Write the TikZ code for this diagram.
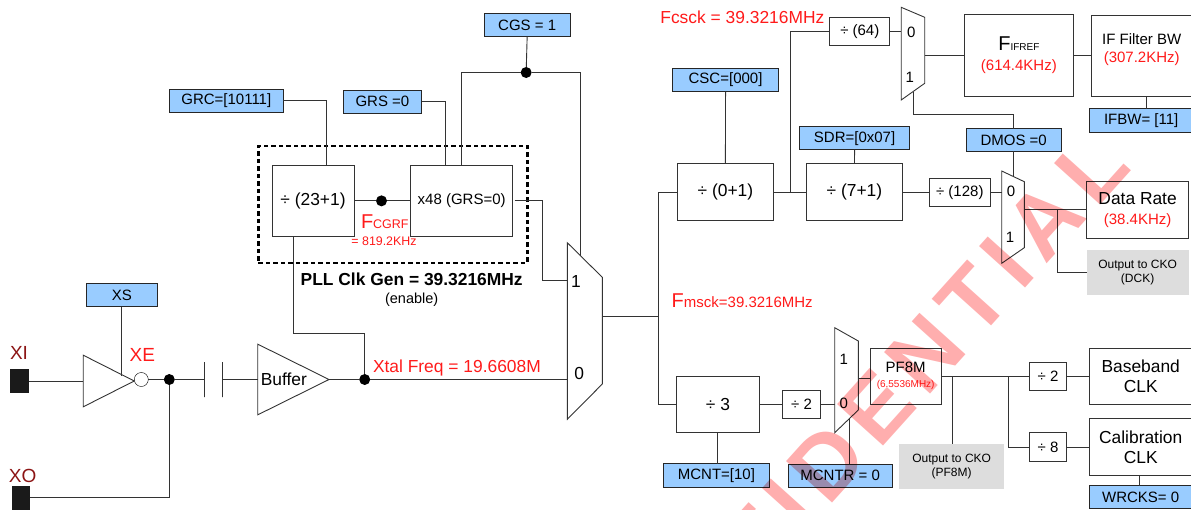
\documentclass[tikz,border=0pt]{standalone}
\usepackage{fontspec}
\setmainfont{Liberation Sans}
\newfontfamily\stampfont[LetterSpace=12.2]{Liberation Sans}
\usepackage{xcolor}
\usepackage{tikz}
\usetikzlibrary{positioning}
\definecolor{regBlue}{HTML}{99CCFF}
\definecolor{clkRed}{HTML}{FF1A1A}
\definecolor{padRed}{HTML}{8C1414}
\definecolor{outGray}{HTML}{DDDDDD}
\definecolor{wireGray}{HTML}{333333}
\definecolor{padBlack}{HTML}{1A1A1A}
\definecolor{stampPink}{HTML}{FFAEAE}
\newcommand{\sizeL}{\fontsize{17.4}{20}\selectfont}
\newcommand{\sizeM}{\fontsize{15}{18}\selectfont}
\newcommand{\sizeS}{\fontsize{12}{14}\selectfont}
\newcommand{\sizeT}{\fontsize{10}{12}\selectfont}
\newcommand{\bigF}[2]{{\fontsize{20}{22}\selectfont F}{\fontsize{#1}{#1}\selectfont #2}}
\newcommand{\redvalue}[1]{{\color{clkRed}\sizeM #1}}
\newcommand{\muxshape}[3]{\draw[wire] (#1.north west) -- ([yshift=-#2pt]#1.north east)
  -- ([yshift=#3pt]#1.south east) -- (#1.south west) -- cycle;}
\newcommand{\triangleshape}[1]{\draw[wire] (#1.north west) -- (#1.east) -- (#1.south west) -- cycle;}
\tikzset{
  wire/.style={draw=wireGray, line width=0.9pt},
  sized/.style 2 args={minimum width=#1pt, minimum height=#2pt},
  block/.style={draw=wireGray, fill=white, line width=0.9pt, inner sep=0pt,
    align=center, font=\sizeL},
  small block/.style={block, font=\sizeM},
  reg box/.style={draw=black!85, fill=regBlue, line width=0.9pt, inner sep=0pt,
    font=\sizeM},
  out box/.style={fill=outGray, inner sep=0pt, align=center, font=\sizeS},
  pad/.style={fill=padBlack, inner sep=0pt},
  pad label/.style={inner sep=0pt, text=padRed, font=\fontsize{19}{21}\selectfont},
  red label/.style={inner sep=0pt, text=clkRed, font=\sizeL},
  dark label/.style={inner sep=0pt, font=\sizeM},
  mux bit/.style={inner sep=0pt, font=\sizeM},
  ghost/.style={inner sep=0pt},
  junction/.style={circle, fill=black, minimum size=11pt, inner sep=0pt},
  bubble/.style={circle, draw=black, fill=white, minimum size=14pt, inner sep=0pt},
  plate/.style={draw=wireGray, line width=0.9pt, inner sep=0pt, minimum width=0pt,
    minimum height=35pt},
  pll frame/.style={draw=black, line width=2.4pt, dash pattern=on 4.5pt off 3pt},
  stamp/.style={inner sep=0pt, text=stampPink,
    font=\fontsize{90}{90}\stampfont\bfseries}
}
\begin{document}
\begin{tikzpicture}[x=1pt,y=-1pt,every node/.append style={outer sep=0pt}]
  \useasboundingbox (0,0) rectangle (1191,509);
  % crystal input
  \node[pad, sized={18.7}{23.7}] (xi pad) at (19.3,381) {};
  \node[pad, sized={18.7}{30}] (xo pad) at (21,501) {};
  \node[pad label] (xi label) at (19,352.7) {XI};
  \node[pad label] (xo label) at (22.7,476) {XO};
  \node[ghost, sized={51}{51.6}, right=54.6pt of xi pad] (inverter) {};
  \node[reg box, sized={71}{23}] (xs) at (121.8,295) {XS};
  \node[bubble] (xe bubble) at (141.3,379.5) {};
  \node[red label, font=\fontsize{19}{21}\selectfont] (xe label) at (142.3,355.3) {XE};
  \node[junction] (xe dot) at (169.3,379.5) {};
  \node[plate, right=29.9pt of xe dot] (cap left) {};
  \node[plate, right=18pt of cap left] (cap right) {};
  \node[ghost, sized={71.3}{70.7}, right=35pt of cap right, text width=65pt, align=left, font=\sizeL] (buffer) {Buffer};
  \node[junction, right=30.2pt of buffer] (xtal dot) {};
  \node[red label, anchor=west] (xtal label) at (373,368) {Xtal Freq = 19.6608M};
  \triangleshape{inverter}
  \triangleshape{buffer}
  % pll clock generator
  \node[pll frame, sized={269}{116.7}] (pll) at (392.8,204.35) {};
  \node[block, sized={82}{70.3}] (pll div) at (313,200.85) {÷ (23+1)};
  \node[junction, right=22pt of pll div] (cgrf dot) {};
  \node[block, sized={102}{71}, font=\sizeM, right=23.7pt of cgrf dot] (x48) {x48 (GRS=0)};
  \node[red label, anchor=west] (cgrf label) at (361,222) {\bigF{12.5}{CGRF}};
  \node[red label, font=\fontsize{12.4}{14}\selectfont] (cgrf value) at (384,241.7) {= 819.2KHz};
  \node[reg box, sized={114}{23}] (grc) at (226.3,100.8) {GRC=[10111]};
  \node[reg box, sized={78.7}{23.3}] (grs) at (382.4,101.7) {GRS =0};
  \node[reg box, sized={85.7}{23}] (cgs) at (527.15,25.2) {CGS = 1};
  \node[junction] (cgs dot) at (526.15,72.5) {};
  \node[inner sep=0pt, font=\sizeL\bfseries] (pll title) at (411.7,279.3) {PLL Clk Gen = 39.3216MHz};
  \node[dark label, font=\fontsize{14.5}{16}\selectfont] (pll enable) at (411.7,300) {(enable)};
  % main mux
  \node[ghost, sized={35}{176.6}] (main mux) at (584.8,331) {};
  \muxshape{main mux}{34.6}{35.3}
  \node[mux bit, font=\sizeL] (main bit1) at (576,281.7) {1};
  \node[mux bit, font=\sizeL] (main bit0) at (579.3,374) {0};
  \coordinate (msck tap) at (658.3,316);
  \node[red label, anchor=west, font=\sizeM] (msck label) at (671.7,301) {\bigF{15}{msck=39.3216MHz}};
  % spi and data rate branch
  \node[red label, anchor=west] (csck label) at (660.4,17) {Fcsck = 39.3216MHz};
  \node[block, sized={96.2}{57}] (div01) at (725.4,192.2) {÷ (0+1)};
  \node[block, sized={96.3}{57}, right=32.8pt of div01] (div78) {÷ (7+1)};
  \node[small block, sized={60.4}{28.3}, right=27pt of div78] (div128) {÷ (128)};
  \node[reg box, sized={106.3}{23.4}] (csc) at (725.55,80) {CSC=[000]};
  \node[reg box, sized={110.4}{23}] (sdr) at (854.6,138.2) {SDR=[0x07]};
  \coordinate (sck tap) at (790.1,192.2);
  \node[small block, sized={60}{28}] (div64) at (859.8,31.7) {÷ (64)};
  \node[ghost, sized={23.5}{92.7}] (mux if) at (912.95,53.65) {};
  \muxshape{mux if}{10}{16.7}
  \node[mux bit] (if bit0) at (911.2,32) {0};
  \node[mux bit] (if bit1) at (909.8,77.3) {1};
  \node[block, sized={109.7}{82.4}] (fifref) at (1018.85,55.5) {};
  \node[inner sep=0pt, align=center] (fifref text) at (1018.85,55.5) {\bigF{10}{IFREF}\\[8pt]\redvalue{(614.4KHz)}};
  \node[block, sized={102}{81.7}] (if filter) at (1142,55.85) {};
  \node[inner sep=0pt, align=center, font=\sizeM] (if filter text) at (1141.7,50) {IF Filter BW\\\redvalue{(307.2KHz)}};
  \node[reg box, sized={103.7}{23.3}] (ifbw) at (1141.2,120.35) {IFBW= [11]};
  \node[reg box, sized={95.3}{22.6}] (dmos) at (1013.65,140) {DMOS =0};
  \node[ghost, sized={22.6}{92.3}] (mux rate) at (1013,217.15) {};
  \muxshape{mux rate}{10.7}{15.6}
  \node[mux bit] (rate bit0) at (1011,191.7) {0};
  \node[mux bit] (rate bit1) at (1010,237) {1};
  \node[block, sized={101.4}{56.3}] (data rate) at (1137.6,209.85) {Data Rate\\\redvalue{(38.4KHz)}};
  \node[out box, sized={102.2}{45}] (dck out) at (1137.6,272.8) {Output to CKO\\(DCK)};
  \coordinate (rate tap) at (1057.2,209.85);
  % baseband branch
  \node[block, sized={82.6}{56.5}] (div3) at (717.9,404.25) {÷ 3};
  \node[small block, sized={37.6}{28}, right=23.5pt of div3] (div2) {÷ 2};
  \node[ghost, sized={23.6}{105}] (mux pf) at (846.5,380.2) {};
  \muxshape{mux pf}{13.3}{22.7}
  \node[mux bit] (pf bit1) at (843.8,359.3) {1};
  \node[mux bit] (pf bit0) at (843.8,403.3) {0};
  \node[block, sized={71.3}{56.3}, font=\sizeM] (pf8m) at (905.65,376.15) {PF8M\\[-3pt]{\color{clkRed}\sizeT (6.5536MHz)}};
  \node[small block, sized={37.4}{28}] (div2 bb) at (1048,376.15) {÷ 2};
  \node[small block, sized={37.4}{28.6}] (div8) at (1048,447) {÷ 8};
  \node[block, sized={102.4}{55.7}] (baseband) at (1140.7,376.15) {Baseband\\CLK};
  \node[block, sized={102.4}{56.6}] (calib) at (1140.7,447) {Calibration\\CLK};
  \node[reg box, sized={102.4}{23}] (wrcks) at (1140.7,497.2) {WRCKS= 0};
  \node[reg box, sized={105.8}{23.6}] (mcnt) at (716.4,475.5) {MCNT=[10]};
  \node[reg box, sized={103.7}{23}] (mcntr) at (840.15,475.8) {MCNTR = 0};
  \node[out box, sized={105.3}{45}] (pf out) at (951.65,466.2) {Output to CKO\\(PF8M)};
  \coordinate (pf tap) at (952.7,376.15);
  \coordinate (bb tap) at (1008.3,376.15);
  % wires
  \draw[wire] (xi pad) -- (xi pad -| inverter.west);
  \draw[wire] (xs.south) -- ++(0,69);
  \draw[wire] (xe bubble) -- (xe dot);
  \draw[wire] ([yshift=3.3pt]xo pad.east) -| (xe dot);
  \draw[wire] (xe dot) -- (cap left);
  \draw[wire] (cap right) -- (cap right -| buffer.west);
  \draw[wire] (buffer.east) -- (xtal dot);
  \draw[wire] (xtal dot) -- (xtal dot -| main mux.west);
  \draw[wire] ([xshift=-19.3pt]pll div.south) -- ++(0,97.7) -| (xtal dot);
  \draw[wire] (pll div) -- (cgrf dot);
  \draw[wire] (cgrf dot) -- (x48);
  \draw[wire] (grc.east) -| ([xshift=13.3pt]pll div.north);
  \draw[wire] (grs.east) -| ([xshift=-16.4pt]x48.north);
  \draw[wire] (cgs.south) -- (cgs dot);
  \draw[wire] (x48.north) |- (cgs dot);
  \draw[wire] (cgs dot) -| ([xshift=-4.1pt,yshift=-13.3pt]main mux.north);
  \draw[wire] ([xshift=2pt]x48.east) -- ++(28,0) |- ([yshift=-38pt]main mux.north west);
  \draw[wire] (main mux.east |- msck tap) -- (msck tap);
  \draw[wire] (msck tap) |- (div01.west);
  \draw[wire] (msck tap) |- (div3.west);
  \draw[wire] (csc.south) -- (div01.north);
  \draw[wire] (sdr.south) -- (div78.north);
  \draw[wire] (div01) -- (div78);
  \draw[wire] (sck tap) |- (div64.west);
  \draw[wire] (div78) -- (div128);
  \draw[wire] (div128) -- (div128 -| mux rate.west);
  \draw[wire] (div64.east) -- (div64 -| mux if.west);
  \draw[wire] (fifref.west -| mux if.east) -- (fifref);
  \draw[wire] (fifref.east) -- (fifref.east -| if filter.west);
  \draw[wire] ([xshift=4pt]if filter.south) -- ([xshift=4pt]if filter.south |- ifbw.north);
  \draw[wire] (dmos.north) -- ++(0,-14.4) -| ([yshift=8.4pt]mux if.south);
  \draw[wire] (dmos.south) -- ++(0,25.5);
  \draw[wire] (data rate.west -| mux rate.east) -- (data rate);
  \draw[wire] (rate tap) |- (dck out.west);
  \draw[wire] (div3) -- (div2);
  \draw[wire] (div2) -- (div2 -| mux pf.west);
  \draw[wire] ([yshift=-2pt]pf8m.west) -- ++(-11.7,0);
  \draw[wire] (pf8m) -- (div2 bb);
  \draw[wire] (pf tap) -- (pf tap |- pf out.north);
  \draw[wire] (bb tap) |- (div8.west);
  \draw[wire] (div2 bb) -- (baseband);
  \draw[wire] (div8) -- (calib);
  \draw[wire] ([xshift=-1.7pt]calib.south) -- ([xshift=-1.7pt]wrcks.north);
  \draw[wire] (div3.south) -- (div3.south |- mcnt.north);
  \draw[wire] ([xshift=8.85pt]mcntr.north) -- ++(0,-45);
  % confidential mark
  \begin{scope}[blend mode=multiply]
    \node[stamp, rotate=48] (mark) at (924,355) {FIDENTIAL};
  \end{scope}
\end{tikzpicture}
\end{document}
